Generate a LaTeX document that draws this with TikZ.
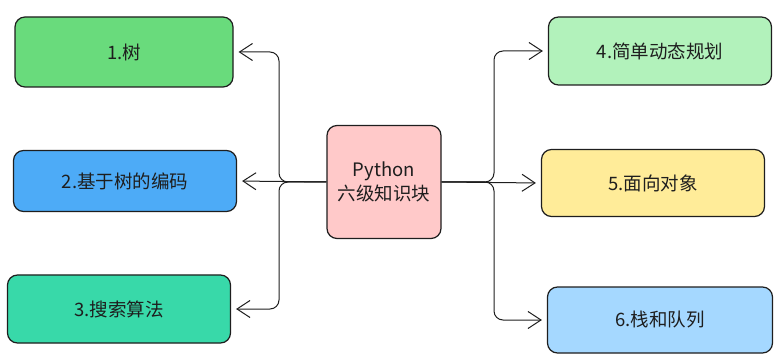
\documentclass[tikz,border=0pt]{standalone}
\usepackage{fontspec}
\setmainfont{Noto Sans CJK SC}
\usetikzlibrary{arrows.meta, positioning}
\definecolor{ink}{HTML}{1E1E1E}
\definecolor{greenA}{HTML}{69DB7C}
\definecolor{blueA}{HTML}{4DABF7}
\definecolor{tealA}{HTML}{38D9A9}
\definecolor{pinkA}{HTML}{FFC9C9}
\definecolor{greenB}{HTML}{B2F2BB}
\definecolor{yellowB}{HTML}{FFEC99}
\definecolor{blueB}{HTML}{A5D8FF}

\begin{document}
\begin{tikzpicture}[x=1pt, y=-1pt,
      topic/.style={draw=ink, line width=1.2pt, rounded corners=10pt, minimum height=67pt,
                    minimum width=223pt, align=center, text=ink, font=\fontsize{18.5}{24}\selectfont},
      hub/.style={topic, minimum width=114pt, minimum height=113pt},
      arr/.style={-{Straight Barb[length=13pt, width=17pt]}, ink, line width=1pt,
                  rounded corners=9pt, shorten >=5pt}]
    \useasboundingbox (0,0) rectangle (776,363);
    \node[hub, fill=pinkA]                         (core) at (384,182) {Python\\六级知识块};
    \node[topic, fill=greenA, minimum width=218pt, minimum height=70pt] (tree) at (124,52) {1.树};
    \node[topic, fill=blueA, minimum height=61pt]  (code) at (125,181) {2.基于树的编码};
    \node[topic, fill=tealA, minimum height=68pt]  (srch) at (119,309) {3.搜索算法};
    \node[topic, fill=greenB, minimum height=68pt] (dyn)  at (660,51)  {4.简单动态规划};
    \node[topic, fill=yellowB]                     (obj)  at (653,183) {5.面向对象};
    \node[topic, fill=blueB, minimum width=225pt, minimum height=66pt] (stk) at (660,320) {6.栈和队列};
    \coordinate (lt) at (279,182);
    \coordinate (rt) at (494,182);
    \draw[arr](core.west)--(lt)|-(tree.east);\draw[arr](core.west)--(code.east);\draw[arr](core.west)--(lt)|-(srch.east);
    \draw[arr](core.east)--(rt)|-(dyn.west);\draw[arr](core.east)--(obj.west);\draw[arr](core.east)--(rt)|-(stk.west);
  \end{tikzpicture}
\end{document}
